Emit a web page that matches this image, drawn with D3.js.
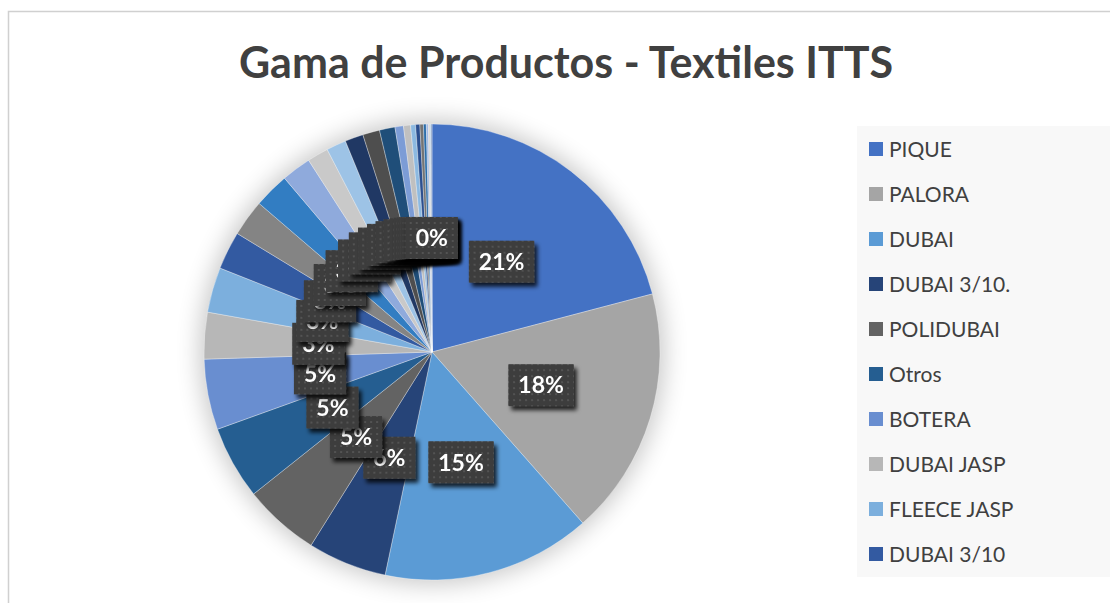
<!DOCTYPE html>
<html>
<head>
<meta charset="utf-8">
<script src="https://cdn.jsdelivr.net/npm/d3@7"></script>
<style>
  html, body { margin: 0; padding: 0; background: #ffffff; }
  svg { display: block; }
</style>
</head>
<body>
<svg id="chart" width="1110" height="603"></svg>
<script>
// Product mix, share of each line (percent points)
const categories = [
  "PIQUE", "PALORA", "DUBAI", "DUBAI 3/10.", "POLIDUBAI", "Otros", "BOTERA",
  "DUBAI JASP", "FLEECE JASP", "DUBAI 3/10",
  "Producto 11", "Producto 12", "Producto 13", "Producto 14", "Producto 15",
  "Producto 16", "Producto 17", "Producto 18", "Producto 19", "Producto 20",
  "Producto 21", "Producto 22", "Producto 23", "Producto 24", "Producto 25",
  "Producto 26", "Producto 27", "Producto 28"
];
const values = [
  20.9, 17.6, 14.8, 5.6, 5.4, 5.2, 5.0,
  3.3, 3.2, 2.7,
  2.6, 2.5, 2.1, 1.5, 1.4,
  1.3, 1.2, 1.1, 0.6, 0.5,
  0.35, 0.3, 0.25, 0.2, 0.15,
  0.12, 0.08, 0.05
];
const sliceColors = [
  "#4472C4", "#A5A5A5", "#5B9BD5", "#264478", "#636363", "#255E91", "#698ED0",
  "#B7B7B7", "#7CAFDD", "#335AA1",
  "#848484", "#327DC2", "#8FAADC", "#C9C9C9", "#9DC3E6",
  "#203864", "#4E4E4E", "#1F4E79", "#7C9CD6", "#C0C0C0",
  "#8CB9E1", "#2B4F8F", "#747474", "#2B6DA9", "#A1B9E3",
  "#D2D2D2", "#ADCDEA", "#375D9F"
];
const titleText = "Gama de Productos - Textiles ITTS";
const legendShown = 10; // entries that fit in the legend box

const W = 1110, H = 603;
const svg = d3.select("#chart");
const defs = svg.append("defs");

// dotted texture for the data label boxes
const pat = defs.append("pattern")
  .attr("id", "dots").attr("width", 6).attr("height", 6)
  .attr("patternUnits", "userSpaceOnUse");
pat.append("rect").attr("width", 6).attr("height", 6).attr("fill", "#3d3d3d");
pat.append("circle").attr("cx", 3).attr("cy", 3).attr("r", 1.1).attr("fill", "#575757");

// shadow under each data label
const ls = defs.append("filter").attr("id", "labelShadow")
  .attr("x", "-30%").attr("y", "-30%").attr("width", "170%").attr("height", "170%");
ls.append("feDropShadow").attr("dx", 3).attr("dy", 4).attr("stdDeviation", 2.2)
  .attr("flood-color", "#000").attr("flood-opacity", 0.8);

// soft halo around the pie
const halo = defs.append("filter").attr("id", "pieHalo")
  .attr("x", "-30%").attr("y", "-30%").attr("width", "160%").attr("height", "160%");
halo.append("feGaussianBlur").attr("stdDeviation", 12);

// chart area frame
svg.append("path")
  .attr("d", `M8.5,${H} V11.5 H${W}`)
  .attr("fill", "none").attr("stroke", "#d0d0d0").attr("stroke-width", 1.5);

// title
svg.append("text")
  .attr("x", 566).attr("y", 78)
  .attr("text-anchor", "middle")
  .attr("font-family", "Lato, 'Open Sans', sans-serif")
  .attr("font-weight", 700).attr("font-size", 43)
  .attr("fill", "#404040")
  .text(titleText);

// pie
const cx = 432, cy = 352, R = 228;
const data = categories.map((c, i) => ({ name: c, value: values[i], color: sliceColors[i] }));
const total = d3.sum(values);
const pie = d3.pie().sort(null).value(d => d.value);
const arcs = pie(data);
const arc = d3.arc().innerRadius(0).outerRadius(R);

const g = svg.append("g").attr("transform", `translate(${cx},${cy})`);

g.append("circle").attr("r", R + 4)
  .attr("fill", "#000").attr("opacity", 0.22)
  .attr("filter", "url(#pieHalo)");

g.selectAll("path.slice")
  .data(arcs)
  .join("path")
  .attr("class", "slice")
  .attr("d", arc)
  .attr("fill", d => d.data.color)
  .attr("stroke", "#ffffff")
  .attr("stroke-opacity", 0.55)
  .attr("stroke-width", 0.6);

// data labels at slice centres, later ones drawn on top
const pct = d3.format(".0%");
arcs.forEach(d => {
  const [lx, ly] = arc.centroid(d);
  const lg = g.append("g")
    .attr("transform", `translate(${lx},${ly})`)
    .attr("filter", "url(#labelShadow)");
  const box = lg.append("rect");
  const t = lg.append("text")
    .attr("text-anchor", "middle")
    .attr("dy", "0.36em")
    .attr("font-family", "Lato, 'Open Sans', sans-serif")
    .attr("font-weight", 700).attr("font-size", 23)
    .attr("fill", "#ffffff")
    .text(pct(d.data.value / total));
  const tw = t.node().getComputedTextLength();
  const bw = tw + 20, bh = 42;
  box.attr("x", -bw / 2).attr("y", -bh / 2)
    .attr("width", bw).attr("height", bh)
    .attr("fill", "url(#dots)");
});

// legend
const legend = svg.append("g");
legend.append("rect")
  .attr("x", 857).attr("y", 126).attr("width", 270).attr("height", 451)
  .attr("fill", "#f8f8f8");
const items = legend.selectAll("g.item")
  .data(data.slice(0, legendShown))
  .join("g")
  .attr("class", "item")
  .attr("transform", (d, i) => `translate(869,${149 + i * 45})`);
items.append("rect")
  .attr("x", 0).attr("y", -7).attr("width", 14).attr("height", 14)
  .attr("fill", d => d.color);
items.append("text")
  .attr("x", 20).attr("dy", "0.36em")
  .attr("font-family", "Lato, 'Open Sans', sans-serif")
  .attr("font-size", 21)
  .attr("fill", "#404040")
  .text(d => d.name);
</script>
</body>
</html>
